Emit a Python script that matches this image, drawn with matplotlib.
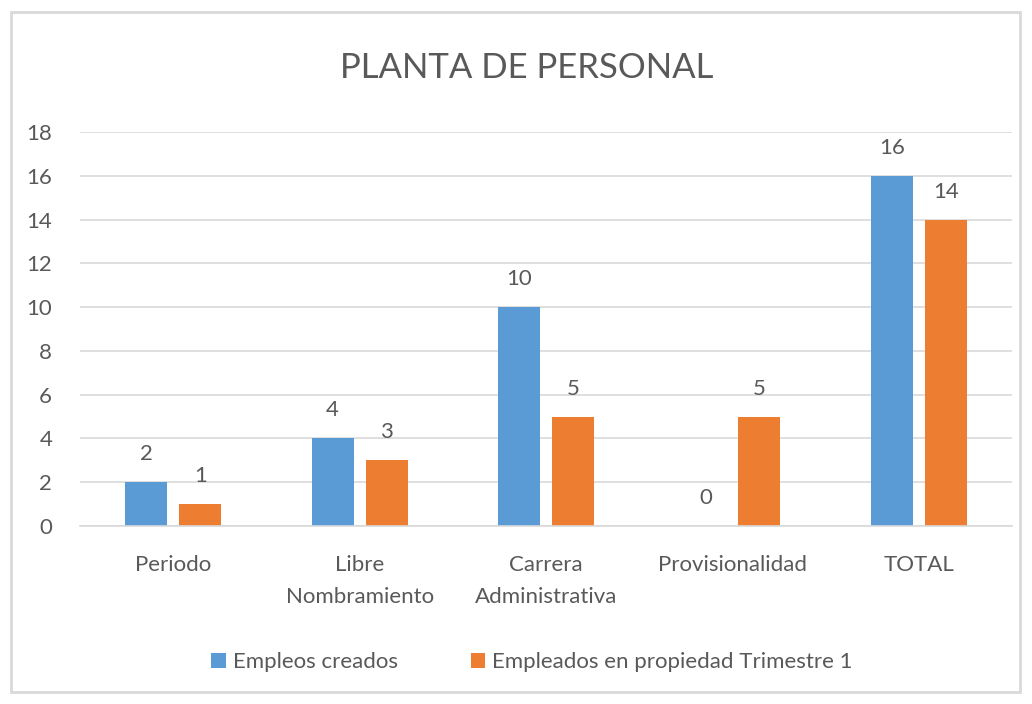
import matplotlib
matplotlib.use("Agg")
import matplotlib.pyplot as plt
from matplotlib.patches import Rectangle
import numpy as np

categories = ["Periodo", "Libre\nNombramiento", "Carrera\nAdministrativa", "Provisionalidad", "TOTAL"]
empleos_creados = [2, 4, 10, 0, 16]
empleados_propiedad = [1, 3, 5, 5, 14]
series_names = ["Empleos creados", "Empleados en propiedad Trimestre 1"]
title = "PLANTA DE PERSONAL"

plt.rcParams['font.family'] = ['Lato', 'DejaVu Sans']

text_color = "#595959"
blue = "#5B9BD5"
orange = "#ED7D31"
grid = "#D9D9D9"

fig = plt.figure(figsize=(10.32, 7.04), dpi=100)
fig.patch.set_facecolor("white")
fig.add_artist(Rectangle((11/1032, 1-692/704), 1009/1032, 680/704, transform=fig.transFigure,
                         fill=False, edgecolor="#D9D9D9", linewidth=2))

ax = fig.add_axes([80/1032, 1-526/704, 932/1032, 394/704])
x = np.arange(len(categories))
w = 0.225
off = 0.145
b1 = ax.bar(x - off, empleos_creados, w, color=blue, label=series_names[0])
b2 = ax.bar(x + off, empleados_propiedad, w, color=orange, label=series_names[1])

for bars in (b1, b2):
    for r in bars:
        h = r.get_height()
        ax.annotate(f"{int(h)}", (r.get_x() + r.get_width()/2, h), xytext=(0, 13),
                    textcoords="offset points", ha="center", va="bottom",
                    fontsize=16, color=text_color)

ax.set_xlim(-0.5, len(categories) - 0.5)
ax.set_ylim(0, 18)
ax.set_yticks(range(0, 19, 2))
ax.yaxis.grid(True, color=grid, linewidth=1.2)
ax.set_axisbelow(True)
for s in ["top", "right", "left"]:
    ax.spines[s].set_visible(False)
ax.spines["bottom"].set_color(grid)
ax.spines["bottom"].set_linewidth(1.2)
ax.tick_params(axis="both", length=0, labelsize=16, labelcolor=text_color)
ax.tick_params(axis="y", pad=20)
ax.tick_params(axis="x", pad=21)
ax.set_xticks(x)
ax.set_xticklabels(categories, linespacing=1.75, va="top")

fig.text(527/1032, 1-68/704, title, ha="center", va="center", fontsize=25, color=text_color)

leg = fig.legend(handles=[b1, b2], loc="center", bbox_to_anchor=(532/1032, 1-662/704), ncol=2,
                 frameon=False, fontsize=16, handlelength=0.65, handleheight=0.65,
                 handletextpad=0.3, columnspacing=3.3, labelcolor=text_color)

fig.savefig("out.png", dpi=100, facecolor="white")
